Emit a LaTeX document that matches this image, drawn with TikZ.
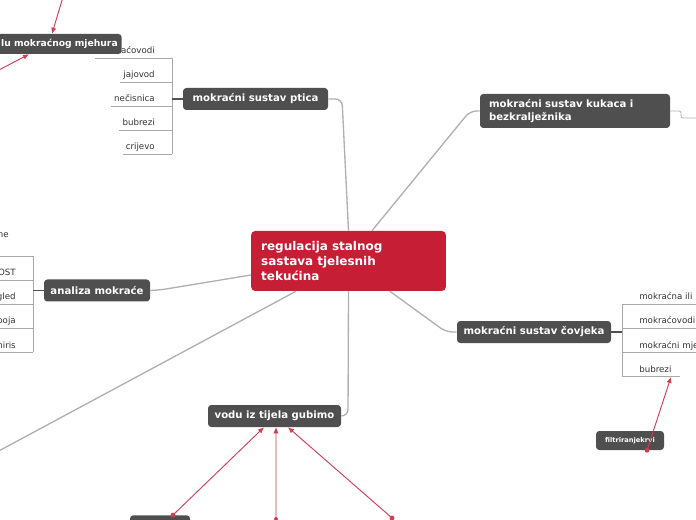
\documentclass[tikz,border=0pt]{standalone}
\usepackage{fontspec}
\setmainfont{DejaVu Sans}
\usetikzlibrary{arrows.meta}

\definecolor{topicgray}{HTML}{4F4F4F}
\definecolor{rootred}{HTML}{C61F35}
\definecolor{linkred}{HTML}{D03E52}
\definecolor{branchgray}{HTML}{B0B0B0}
\definecolor{leafgray}{HTML}{A8A8A8}

\begin{document}
\begin{tikzpicture}[x=0.75pt, y=-0.75pt,
  topic/.style={fill=topicgray, text=white, rounded corners=2.5pt,
    font=\fontsize{7.6}{9}\selectfont\bfseries, minimum height=16.5pt,
    inner xsep=4pt, inner ysep=2pt},
  root/.style={fill=rootred, text=white, rounded corners=3pt,
    font=\fontsize{9}{11.25}\selectfont\bfseries, align=left,
    text width=131pt, minimum height=45pt, inner xsep=7.5pt},
  leaf/.style={font=\fontsize{6.5}{7.5}\selectfont, text=black!80, inner sep=0pt},
  branch/.style={draw=branchgray, line width=1pt, rounded corners=5pt},
  stem/.style={draw=leafgray, line width=0.5pt},
  stemdark/.style={draw=topicgray, line width=1.1pt},
  link/.style={draw=linkred, line width=0.7pt, -{Latex[length=4.5pt,width=4pt]}},
]
\useasboundingbox (0,0) rectangle (696,520);
\begin{scope}
\clip (0,0) rectangle (696,520);

% root
\node[root] (root) at (348.5,261) {regulacija stalnog\\ sastava tjelesnih\\ tekućina};

% main topics
\node[topic, minimum width=108.75pt] (ptica) at (255.5,99) {mokraćni sustav ptica};
\node[topic, minimum width=142.5pt, minimum height=25.5pt, text width=129pt,
  align=left, inner xsep=6.75pt, font=\fontsize{7.6}{9.75}\selectfont\bfseries]
  (kukaca) at (575,111) {mokraćni sustav kukaca i\\ bezkralježnika};
\node[topic, minimum width=79.5pt] (analiza) at (97,290.5) {analiza mokraće};
\node[topic, minimum width=115.5pt] (covjeka) at (534,332) {mokraćni sustav čovjeka};
\node[topic, minimum width=99.75pt] (vodu) at (274.5,416) {vodu iz tijela gubimo};

% branches
\coordinate (farleft) at (-5,453);
\draw[branch] (root.north) -- (342,99) -- (ptica.east);
\draw[branch] ([xshift=17.6pt]root.north) -- (470,111) -- (kukaca.west);
\draw[branch] ([yshift=-10.5pt]root.west) -- (160,290) -- (analiza.east);
\draw[branch] ([xshift=31pt]root.south) -- (446,332) -- (covjeka.west);
\draw[branch] (root.south) -- (348,416) -- (vodu.east);
\draw[branch] ([xshift=-39.4pt]root.south) -- (farleft);
\draw[branch, line width=0.6pt, rounded corners=1.5pt] (kukaca.east) -- (681,111) -- (681,118) -- (700,118);

% bird list
\foreach \txt/\y [count=\i] in {mokraćovodi/58, jajovod/82, nečisnica/106, bubrezi/130, crijevo/154} {
  \node[leaf, anchor=base east] (pt\i) at (155,\y-4) {\txt};
  \draw[stem] (pt\i.base west) ++(-3,4) -- (172,\y);
}
\draw[stem] (172,58) -- (172,154);
\draw[stemdark] (ptica.west) -- (172,99);

% analiza list
\node[leaf, anchor=base east] (an0) at (9,238) {ne};
\draw[stem] (-5,256) -- (33,256);
\foreach \txt/\y [count=\i] in {OST/280, gled/304, boja/328, hiris/352} {
  \node[leaf, anchor=base east] (an\i) at (16,\y-4) {\txt};
  \draw[stem] (-5,\y) -- (33,\y);
}
\draw[stem] (33,256) -- (33,352);
\draw[stemdark] (analiza.west) -- (33,290.5);

% human list
\foreach \txt/\y/\e [count=\i] in {mokraćna ili/304/700, mokraćovodi/328/700, mokraćni mjehur/352/700, bubrezi/376/680} {
  \node[leaf, anchor=base west] (cv\i) at (639,\y-4) {\txt};
  \draw[stem] (622,\y) -- (\e,\y);
}
\draw[stem] (622,304) -- (622,376);
\draw[stemdark] (covjeka.east) -- (622,332);

% floating topics
\node[topic, anchor=east, minimum height=15pt, inner ysep=1pt, inner xsep=3pt,
  font=\fontsize{6.9}{8}\selectfont\bfseries] (mjehura) at (122,44) {lu mokraćnog mjehura};
\node[topic, minimum width=51pt, minimum height=14.25pt, inner sep=1pt,
  font=\fontsize{5}{6}\selectfont\bfseries] (filtr) at (630,440.5) {filtriranjekrvi};
\node[topic, anchor=north, minimum width=45pt] (hidden) at (160,515) {};

% relations
\coordinate (srcTop) at (63,-3);
\coordinate (srcLeft) at (-3,71);
\coordinate (bubreziTip) at (671,377);
\coordinate (srcMid) at (276,530);
\coordinate (srcRight) at (392,518);
\draw[link] (srcTop) -- ([xshift=-52.5pt]mjehura.north east);
\draw[link] (srcLeft) -- ([xshift=-69.75pt]mjehura.south east);
\draw[link] ([xshift=12.75pt]filtr.south) -- (bubreziTip);
\fill[linkred] ([xshift=12.75pt]filtr.south) circle (1.8pt);
\draw[link] ([xshift=9.75pt]hidden.north) -- ([xshift=-7.9pt]vodu.south);
\fill[linkred] ([xshift=9.75pt]hidden.north) circle (1.8pt);
\draw[link] (srcMid) -- ([xshift=1.1pt]vodu.south);
\fill[linkred] (276,519) circle (1.5pt);
\draw[link] (srcRight) -- ([xshift=10.1pt]vodu.south);
\fill[linkred] (srcRight) circle (1.8pt);
\end{scope}
\end{tikzpicture}
\end{document}
